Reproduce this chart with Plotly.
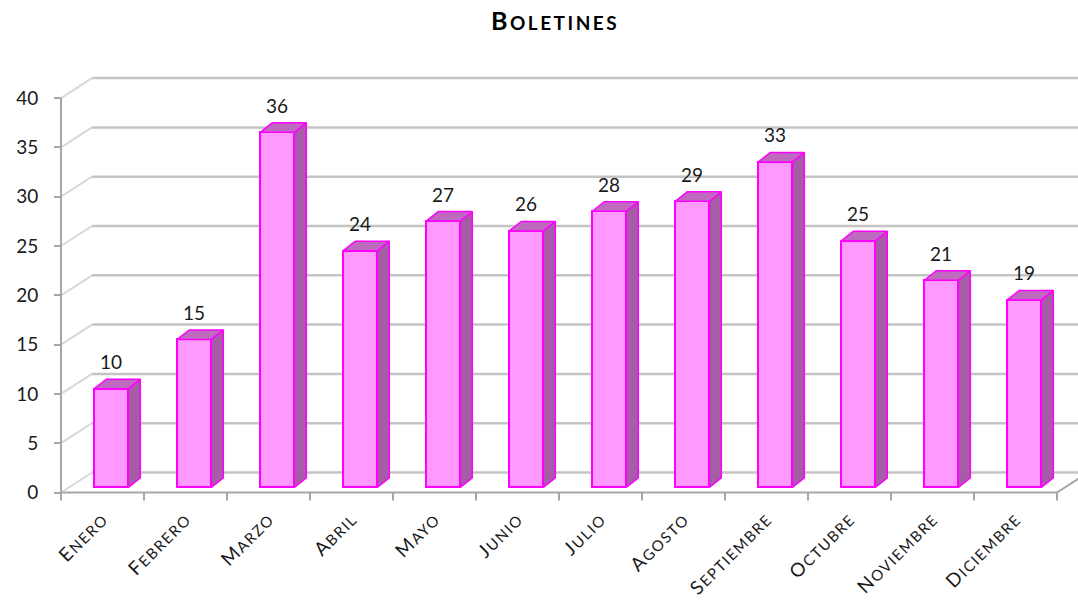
import plotly.graph_objects as go

# Monthly bulletin counts
months = ["Enero", "Febrero", "Marzo", "Abril", "Mayo", "Junio", "Julio",
          "Agosto", "Septiembre", "Octubre", "Noviembre", "Diciembre"]
boletines = [10, 15, 36, 24, 27, 26, 28, 29, 33, 25, 21, 19]
y_ticks = [0, 5, 10, 15, 20, 25, 30, 35, 40]
title_text = "Boletines"

# ---- canvas / scale set-up (front plane of the 3-D box) ----
W, H = 1078, 601
PX_PER_CAT = 83.0      # horizontal pixels per category
PX_PER_UNIT = 9.86     # vertical pixels per value unit
X0_PX = 102.5          # pixel column of the first category centre
Y0_PX = 492.5          # pixel row of value 0 on the front plane

x_range = [-X0_PX / PX_PER_CAT, (W - X0_PX) / PX_PER_CAT]
y_range = [-(H - Y0_PX) / PX_PER_UNIT, Y0_PX / PX_PER_UNIT]

# oblique depth of the walls and of the columns, in data units
wall_dx, wall_dy = 31 / PX_PER_CAT, 20 / PX_PER_UNIT
bar_left, bar_width = -8.2 / PX_PER_CAT, 34 / PX_PER_CAT
bar_base = 5.2 / PX_PER_UNIT
depth_dx, depth_dy = 12 / PX_PER_CAT, 9.5 / PX_PER_UNIT

FONT = "Lato"
GRID = "#C4C4C4"
WALL_EDGE = "#D8D8D8"
AXIS = "#A6A6A6"
FRONT = "#FF99FF"
SIDE = "#A65CA6"
TOP = "#BE6ABE"
EDGE = "#FF00FF"


def small_caps(word, small_px, spacing_px):
    """First letter at full size, the rest as spaced small capitals."""
    return (f'<span style="letter-spacing:{spacing_px}px">{word[0]}</span>'
            f'<span style="font-size:{small_px}px;letter-spacing:{spacing_px}px">'
            f'{word[1:].upper()}</span>')


x_first = -0.5
x_last = len(months) - 0.5

shapes = []
# back-wall gridlines and the matching diagonals on the side wall
for v in y_ticks:
    shapes.append(dict(type="line", layer="below", xref="x", yref="y",
                       x0=x_first + wall_dx, x1=x_range[1] + 1,
                       y0=v + wall_dy, y1=v + wall_dy,
                       line=dict(color=GRID, width=2.5)))
    shapes.append(dict(type="line", layer="below", xref="x", yref="y",
                       x0=x_first, x1=x_first + wall_dx,
                       y0=v, y1=v + wall_dy,
                       line=dict(color=WALL_EDGE, width=2)))
# front vertical axis line
shapes.append(dict(type="line", layer="below", xref="x", yref="y",
                   x0=x_first, x1=x_first, y0=0, y1=y_ticks[-1],
                   line=dict(color=AXIS, width=2)))
# floor: front edge and right edge
shapes.append(dict(type="line", layer="below", xref="x", yref="y",
                   x0=x_first, x1=x_last, y0=0, y1=0,
                   line=dict(color=AXIS, width=2)))
shapes.append(dict(type="line", layer="below", xref="x", yref="y",
                   x0=x_last, x1=x_last + wall_dx, y0=0, y1=wall_dy,
                   line=dict(color=AXIS, width=2)))
# category boundary tick marks under the floor
for k in range(len(months) + 1):
    xb = x_first + k
    shapes.append(dict(type="line", layer="below", xref="x", yref="y",
                       ysizemode="pixel", yanchor=0, y0=0, y1=-8,
                       x0=xb, x1=xb,
                       line=dict(color=AXIS, width=2)))

# side and top faces of each column
side_x, side_y, top_x, top_y = [], [], [], []
for i, v in enumerate(boletines):
    xl = i + bar_left
    xr = xl + bar_width
    yb = bar_base
    yt = bar_base + v
    side_x += [xr, xr + depth_dx, xr + depth_dx, xr, xr, None]
    side_y += [yb, yb + depth_dy, yt + depth_dy, yt, yb, None]
    top_x += [xl, xl + depth_dx, xr + depth_dx, xr, xl, None]
    top_y += [yt, yt + depth_dy, yt + depth_dy, yt, yt, None]

fig = go.Figure()
fig.add_trace(go.Bar(
    x=[i + bar_left + bar_width / 2 for i in range(len(months))],
    y=boletines, base=bar_base, width=bar_width,
    marker=dict(color=FRONT, line=dict(color=EDGE, width=2)),
    hovertext=months, hoverinfo="text+y", showlegend=False))
fig.add_trace(go.Scatter(x=side_x, y=side_y, mode="lines", fill="toself",
                         fillcolor=SIDE, line=dict(color=EDGE, width=1.5),
                         hoverinfo="skip", showlegend=False))
fig.add_trace(go.Scatter(x=top_x, y=top_y, mode="lines", fill="toself",
                         fillcolor=TOP, line=dict(color=EDGE, width=1.5),
                         hoverinfo="skip", showlegend=False))

annotations = []
# value labels above each column
for i, v in enumerate(boletines):
    annotations.append(dict(
        x=i + bar_left + bar_width / 2, y=bar_base + v + depth_dy,
        xref="x", yref="y", text=str(v), showarrow=False,
        xanchor="center", yanchor="bottom", yshift=4,
        font=dict(family=FONT, size=19, color="#1A1A1A")))
# chart title
annotations.append(dict(
    x=555 / W, y=1 - 20 / H, xref="paper", yref="paper",
    text=small_caps(title_text, 19, 2.5), showarrow=False,
    xanchor="center", yanchor="middle",
    font=dict(family=FONT, size=25, color="#000000", weight="bold")))

fig.update_layout(
    width=W, height=H,
    margin=dict(l=0, r=0, t=0, b=0),
    paper_bgcolor="white", plot_bgcolor="white",
    bargap=0, showlegend=False,
    shapes=shapes, annotations=annotations,
    xaxis=dict(range=x_range, anchor="free", position=(H - Y0_PX) / H,
               tickmode="array", tickvals=list(range(len(months))),
               ticktext=[small_caps(m, 15, 1.5) for m in months],
               tickangle=-45, ticks="",
               showgrid=False, zeroline=False, showline=False,
               automargin=False, ticklabelstandoff=11,
               tickfont=dict(family=FONT, size=19, color="#1A1A1A"),
               fixedrange=True),
    yaxis=dict(range=y_range, anchor="free", position=61 / W,
               tickmode="array", tickvals=y_ticks,
               ticks="outside", ticklen=7, tickwidth=2, tickcolor=AXIS,
               showgrid=False, zeroline=False, showline=False,
               automargin=False, ticklabelstandoff=12,
               tickfont=dict(family=FONT, size=19, color="#1A1A1A"),
               fixedrange=True),
)

fig.write_html("out.html")
